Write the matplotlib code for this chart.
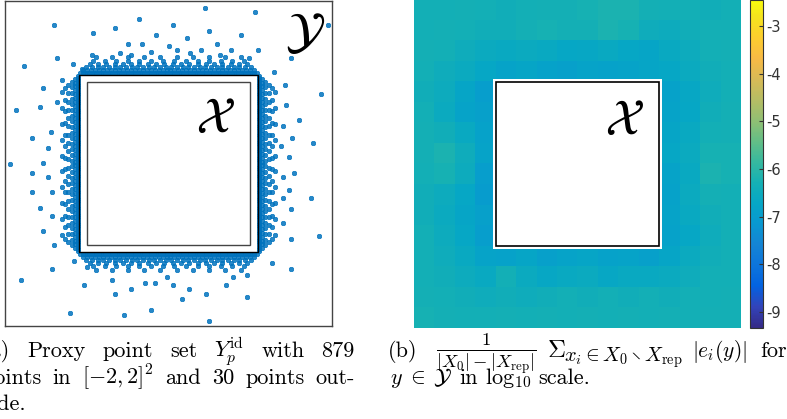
import numpy as np
import matplotlib
matplotlib.use("Agg")
import matplotlib.pyplot as plt
from matplotlib.colors import LinearSegmentedColormap
from matplotlib.patches import Rectangle

plt.rcParams["mathtext.fontset"] = "cm"

# proxy points lying well away from the box
far_x = [-1.40, -0.36, -0.65, -0.92, -0.15, -0.49, -0.32, -0.21, -0.59, -1.77,
         -1.37, -1.17, -1.06, -0.93, -0.46, 0.45, 1.06, 0.06, 0.49, 1.95,
         0.89, 0.23, 0.59, 0.01, 0.40, 0.76, 1.09, 0.26, 0.63, 0.99,
         1.50, 1.29, 1.43, 0.11, 1.87, 1.44, 1.60, 1.40, 1.51, 1.77,
         1.47, 1.38, 1.54, 1.40, 1.47, 1.74, 1.40, 1.50, 1.40, 1.84,
         1.50, 1.27, 1.50, 0.96, 0.79, 0.05, 0.25, 0.70, 0.16, 0.46,
         0.96, 0.49, -1.80, -1.03, -0.65, -0.46, -1.20, -0.55, -0.22, -0.69,
         -0.29, -0.16, -0.02, -1.16, -1.43, -1.00, -1.94, -1.67, -1.47, -1.67,
         -1.43, -1.57, -1.43, -1.54, -1.40, -1.54, -1.87, -1.57, -1.67, -1.44,
         -1.47, -1.54, -1.37, -1.30]
far_y = [1.71, 1.78, 1.67, 1.60, 1.58, 1.47, 1.47, 1.37, 1.36, 1.20,
         1.30, 1.23, 1.16, 1.34, 1.33, 1.91, 1.87, 1.71, 1.63, 1.71,
         1.58, 1.54, 1.47, 1.44, 1.40, 1.40, 1.40, 1.36, 1.34, 1.30,
         1.30, 1.13, 0.96, 1.40, 0.86, 0.72, 0.53, 0.46, 0.32, 0.25,
         0.08, 0.22, -0.12, -0.16, -0.32, -0.42, -0.42, -0.56, -0.73, -0.89,
         -0.93, -1.23, -1.30, -1.37, -1.40, -1.50, -1.54, -1.50, -1.67, -1.60,
         -1.64, -1.94, -1.43, -1.50, -1.60, -1.54, -1.84, -1.87, -1.80, -1.43,
         -1.47, -1.47, -1.40, -1.20, -1.30, -1.27, -0.01, -0.12, -0.16, -0.35,
         -0.35, -0.55, -0.65, -0.83, -1.00, 0.93, 0.66, 0.70, 0.32, 0.39,
         0.19, 0.01, 0.76, 1.03]

# dense layers hugging the box: distance from the box edge, points per side
layer_offset = [0.015, 0.05, 0.09, 0.13, 0.17, 0.21]
layer_count = [78, 44, 30, 20, 14, 10]

box_half = 1.095   # proxy region boundary
dom_half = 1.0     # the domain X

# log10 of the averaged error, rows from top to bottom
B = -6.35
err_log10 = np.array([
    [-6.35, -6.35, -6.30, -6.35, -6.40, -6.35, -6.30, -6.30, -6.25, -6.20, -6.20, -6.30, -6.35, -6.35, -6.40, -6.35],
    [-6.35, -6.30, -6.35, -6.40, -6.40, -6.30, -6.25, -6.30, -6.30, -6.20, -6.25, -6.45, -6.50, -6.40, -6.30, -6.30],
    [-6.30, -6.35, -6.45, -6.55, -6.60, -6.55, -6.60, -6.70, -6.65, -6.60, -6.70, -6.75, -6.60, -6.50, -6.35, -6.30],
    [-6.35, -6.45, -6.55, -6.70, -6.80, -6.75, -6.85, -6.90, -6.80, -6.85, -6.80, -6.75, -6.70, -6.55, -6.40, -6.35],
    [-6.40, -6.50, -6.75, -6.95, B, B, B, B, B, B, B, B, -6.85, -6.65, -6.45, -6.35],
    [-6.35, -6.55, -6.80, -6.90, B, B, B, B, B, B, B, B, -6.80, -6.70, -6.40, -6.30],
    [-6.30, -6.40, -6.60, -6.85, B, B, B, B, B, B, B, B, -6.75, -6.60, -6.35, -6.30],
    [-6.30, -6.20, -6.45, -6.80, B, B, B, B, B, B, B, B, -6.70, -6.55, -6.25, -6.25],
    [-6.35, -6.25, -6.50, -6.95, B, B, B, B, B, B, B, B, -6.80, -6.60, -6.20, -6.25],
    [-6.40, -6.50, -6.70, -7.00, B, B, B, B, B, B, B, B, -6.85, -6.55, -6.30, -6.35],
    [-6.40, -6.55, -6.75, -6.90, B, B, B, B, B, B, B, B, -6.80, -6.60, -6.40, -6.35],
    [-6.35, -6.50, -6.70, -6.95, B, B, B, B, B, B, B, B, -6.85, -6.70, -6.45, -6.35],
    [-6.35, -6.45, -6.60, -6.80, -6.85, -6.75, -6.90, -6.80, -6.75, -6.85, -6.80, -6.90, -6.75, -6.55, -6.40, -6.35],
    [-6.35, -6.40, -6.50, -6.60, -6.35, -6.55, -6.65, -6.60, -6.55, -6.65, -6.60, -6.60, -6.55, -6.45, -6.35, -6.35],
    [-6.30, -6.35, -6.40, -6.45, -6.40, -6.45, -6.40, -6.35, -6.40, -6.35, -6.40, -6.35, -6.40, -6.35, -6.35, -6.30],
    [-6.25, -6.30, -6.35, -6.35, -6.30, -6.35, -6.30, -6.35, -6.30, -6.35, -6.30, -6.35, -6.30, -6.35, -6.30, -6.30],
])
cbar_ticks = [-9, -8, -7, -6, -5, -4, -3]
clim = (-9.34, -2.45)

# parula-like colormap
parula = [(0.2081, 0.1663, 0.5292), (0.1959, 0.2645, 0.7279), (0.0117, 0.3875, 0.8820),
          (0.0498, 0.4586, 0.8641), (0.0793, 0.5200, 0.8312), (0.0343, 0.5966, 0.8199),
          (0.0228, 0.6535, 0.7768), (0.0843, 0.6928, 0.7062), (0.2178, 0.7250, 0.6193),
          (0.3953, 0.7459, 0.5244), (0.5709, 0.7485, 0.4494), (0.7184, 0.7411, 0.3905),
          (0.8507, 0.7299, 0.3360), (0.9739, 0.7314, 0.2666), (0.9880, 0.8066, 0.1794),
          (0.9589, 0.8949, 0.1132), (0.9763, 0.9831, 0.0538)]
pos = [i / 63 for i in range(0, 61, 4)] + [1.0]
cmap = LinearSegmentedColormap.from_list("parula", list(zip(pos, parula)))

W, H = 787, 419
fig = plt.figure(figsize=(W / 100, H / 100), dpi=100)

def px_axes(x0, y0, x1, y1):
    # axes from pixel box (top-left origin)
    return fig.add_axes([x0 / W, 1 - y1 / H, (x1 - x0) / W, (y1 - y0) / H])

# ---- (a) proxy points
ax1 = px_axes(5, 1, 332, 326)
bx, by = [], []
for d, n in zip(layer_offset, layer_count):
    half = box_half - d
    t = np.linspace(-half, half, n)
    r = box_half + d
    bx += list(t) + list(t) + [-r] * n + [r] * n
    by += [r] * n + [-r] * n + list(t) + list(t)
px = np.concatenate([bx, far_x])
py = np.concatenate([by, far_y])
ax1.plot(px, py, linestyle="none", marker=(8, 2, 0), ms=3.6, mew=1.0,
         color=(0, 0.447, 0.741), alpha=0.85)
ax1.add_patch(Rectangle((-box_half, -box_half), 2 * box_half, 2 * box_half,
                        fill=False, ec="k", lw=1.0, zorder=3))
ax1.add_patch(Rectangle((-dom_half, -dom_half), 2 * dom_half, 2 * dom_half,
                        fill=False, ec="#444444", lw=1.0, zorder=3))
ax1.text(0.58, 0.56, r"$\mathcal{X}$", fontsize=36, math_fontfamily="stix",
         ha="center", va="center")
ax1.text(1.67, 1.61, r"$\mathcal{Y}$", fontsize=36, math_fontfamily="stix",
         ha="center", va="center")
ax1.set_xlim(-2, 2)
ax1.set_ylim(-2, 2)
ax1.set_xticks([])
ax1.set_yticks([])
for s in ax1.spines.values():
    s.set_color("#444444")
    s.set_linewidth(1.0)

# ---- (b) error heat map
ax2 = px_axes(414, 0, 741, 328)
im = ax2.imshow(err_log10, cmap=cmap, vmin=clim[0], vmax=clim[1],
                extent=(-2, 2, -2, 2), interpolation="nearest", aspect="auto")
ax2.add_patch(Rectangle((-1.035, -1.035), 2.07, 2.07, fc="white", ec="none", zorder=2))
ax2.add_patch(Rectangle((-dom_half, -dom_half), 2 * dom_half, 2 * dom_half,
                        fill=False, ec="k", lw=1.2, zorder=3))
ax2.text(0.58, 0.54, r"$\mathcal{X}$", fontsize=36, math_fontfamily="stix",
         ha="center", va="center", zorder=4)
ax2.set_xlim(-2, 2)
ax2.set_ylim(-2, 2)
ax2.axis("off")

cax = px_axes(750, 0, 763, 328)
cb = fig.colorbar(im, cax=cax, ticks=cbar_ticks)
cb.ax.set_yticklabels([str(v) for v in cbar_ticks])
cb.ax.tick_params(direction="in", length=3, width=0.8, colors="#333333",
                  labelsize=10.5, pad=2)
cb.outline.set_edgecolor("#333333")
cb.outline.set_linewidth(0.8)

# ---- captions
renderer = fig.canvas.get_renderer()

def put(s, x, base, size=16, mf="cm"):
    return fig.text(x / W, 1 - base / H, s, fontsize=size, family="cmr10",
                    math_fontfamily=mf, va="baseline", ha="left")

def caption_line(words, x0, base, x1=None, size=16):
    # words are strings or (string, math font family) pairs
    texts = []
    for w in words:
        s, mf = (w, "cm") if isinstance(w, str) else w
        texts.append(put(s, 0, base, size, mf))
    widths = [t.get_window_extent(renderer).width for t in texts]
    if x1 is None:
        gap = 0.333 * size * 100 / 72
    else:
        gap = (x1 - x0 - sum(widths)) / (len(words) - 1)
    x = x0
    for t, w in zip(texts, widths):
        t.set_x(x / W)
        x += w + gap

caption_line(["(a)", "Proxy", "point", "set", r"$Y_p^{\mathrm{id}}$", "with", "879"],
             -18, 357, 355)
caption_line(["points", "in", r"$[-2,2]^2$", "and", "30", "points", "out-"],
             -18, 384, 355)
caption_line(["side."], -18, 410)

put("(b)", 388, 357)
put(r"$\frac{1}{|X_0|-|X_{\mathrm{rep}}|}$", 436, 357, size=19)
put(r"$\Sigma$", 547, 357, size=18)
put(r"${}_{x_i\in X_0\setminus X_{\mathrm{rep}}}$", 563, 357, size=21)
put(r"$|e_i(y)|$", 692, 357, size=15.5)
put("for", 760, 357)
caption_line([r"$y\;\in$", (r"$\mathcal{Y}$", "stix"), "in", r"$\log_{10}$", "scale."],
             390, 384)

fig.savefig("out.png", dpi=100)
